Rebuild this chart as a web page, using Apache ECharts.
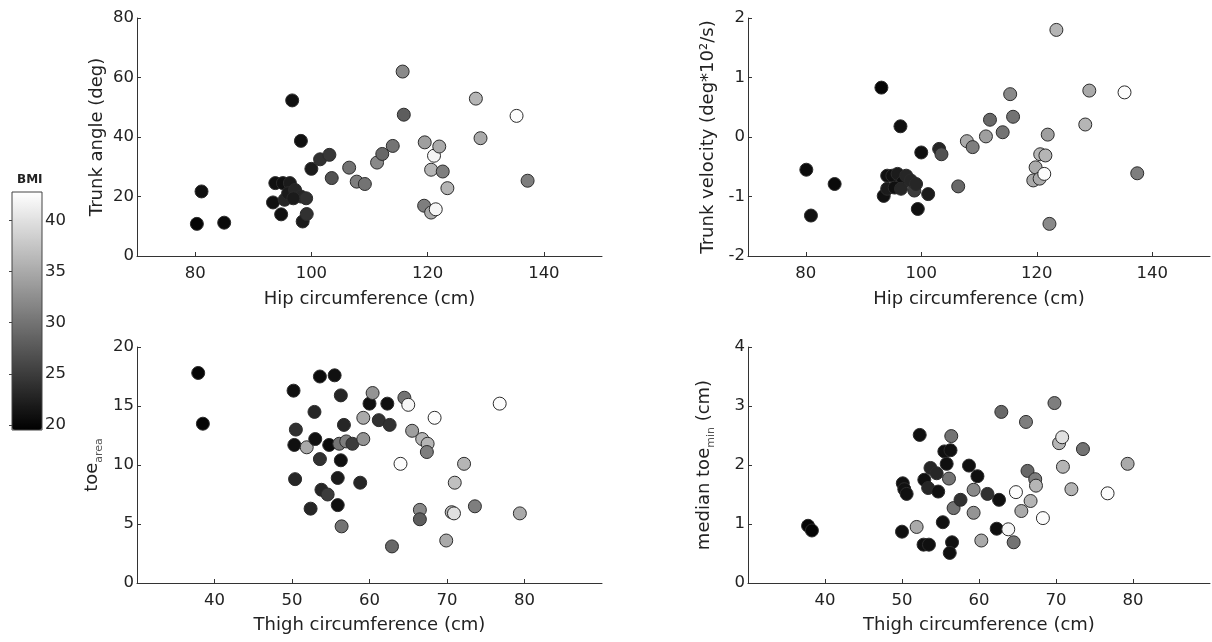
<!DOCTYPE html>
<html>
<head>
<meta charset="utf-8">
<script src="https://cdn.jsdelivr.net/npm/echarts@6/dist/echarts.min.js"></script>
<style>
  html, body { margin: 0; padding: 0; background: #fff; }
  #chart { width: 1212px; height: 642px; }
</style>
</head>
<body>
<div id="chart"></div>
<script>
// trunk angle vs hip circumference
const angleHip = [80.3, 81.1, 85, 96.7, 98.2, 100, 101.5, 103.1, 103.5, 106.5, 107.8, 109.2, 111.3, 112.2, 114, 115.7, 115.9, 119.5, 119.4, 120.6, 121.4, 121.1, 120.6, 122, 122.6, 123.4, 128.3, 129.1, 135.3, 137.2, 93.4, 93.8, 95.1, 96.3, 94.8, 95.4, 96, 97.2, 98.2, 99.1, 98.5, 99.2, 96.9]
const angleDeg = [10.8, 21.7, 11.2, 52.3, 38.7, 29.3, 32.5, 34, 26.2, 29.7, 25, 24.2, 31.4, 34.3, 37, 62, 47.5, 38.2, 16.9, 14.6, 15.7, 33.7, 29, 36.8, 28.4, 22.8, 52.9, 39.6, 47.1, 25.3, 18, 24.5, 24.5, 24.5, 14, 18.9, 21.1, 22.2, 20, 19.4, 11.6, 14.1, 19.4]
const angleBmi = [20, 21, 20.5, 21, 21, 22, 24, 24.5, 27, 30, 31, 30, 32, 29, 30, 32, 28, 34, 31, 35, 42, 42, 36, 35, 31, 36, 36, 35, 42.5, 31, 21, 21, 21, 22, 21, 23, 22, 23, 23, 24, 22, 24, 22]

// trunk velocity vs hip circumference
const velHip = [80.1, 80.9, 85, 93.1, 96.4, 100, 103.1, 103.5, 106.4, 107.9, 108.9, 111.2, 111.9, 114.1, 115.4, 115.9, 119.4, 119.8, 120.6, 121.5, 120.5, 121.3, 121.9, 122.2, 123.4, 128.4, 129.1, 135.2, 137.4, 93.5, 94.1, 95, 95.9, 96.8, 97.4, 98.2, 98.8, 99.1, 94.1, 95.4, 99.4, 101.2, 96.5]
const velVal = [-0.55, -1.32, -0.79, 0.83, 0.18, -0.26, -0.2, -0.29, -0.83, -0.07, -0.17, 0.01, 0.29, 0.08, 0.72, 0.34, -0.73, -0.51, -0.29, -0.31, -0.7, -0.62, 0.04, -1.46, 1.8, 0.21, 0.78, 0.75, -0.61, -0.99, -0.65, -0.65, -0.62, -0.76, -0.65, -0.73, -0.9, -0.79, -0.87, -0.85, -1.21, -0.96, -0.87]
const velBmi = [20.5, 21, 20.5, 20, 21, 21, 23, 27, 29, 35, 31, 34, 29, 30, 32, 30, 35, 35, 36, 36, 35, 42.5, 34, 32, 36, 36, 35, 42.5, 31, 21, 21, 21, 22, 21, 23, 23, 25, 23, 22, 21, 21, 22, 23]

// toe area vs thigh circumference
const areaThigh = [37.9, 38.5, 50.2, 50.5, 50.3, 50.4, 52.4, 51.9, 52.9, 53, 53.6, 53.6, 53.8, 54.6, 54.8, 55.5, 55.9, 55.9, 56.3, 56.3, 56.7, 56.4, 56.1, 57, 57.8, 58.8, 59.2, 59.2, 60, 60.4, 61.2, 62.3, 62.6, 62.9, 64, 64.5, 65, 65.5, 66.5, 66.5, 66.8, 67.5, 67.4, 68.4, 69.9, 70.6, 70.9, 71, 72.2, 73.6, 76.8, 79.4]
const areaVal = [17.8, 13.5, 16.3, 13, 11.7, 8.8, 6.3, 11.5, 14.5, 12.2, 17.5, 10.5, 7.9, 7.5, 11.7, 17.6, 8.9, 6.6, 15.9, 10.4, 13.4, 4.8, 11.8, 12, 11.8, 8.5, 12.2, 14, 15.2, 16.1, 13.8, 15.2, 13.4, 3.1, 10.1, 15.7, 15.1, 12.9, 6.2, 5.4, 12.2, 11.8, 11.1, 14, 3.6, 6, 5.9, 8.5, 10.1, 6.5, 15.2, 5.9]
const areaBmi = [20, 20, 21, 24, 21, 23, 23, 35, 23, 21, 20.5, 24, 23, 25, 20.5, 21, 22, 21, 23, 21, 23, 30, 30, 31, 25, 23, 33, 35, 21, 33, 24, 21, 24, 29, 42.5, 30, 42, 34, 32, 28, 36, 36, 31, 42.5, 35, 36, 40, 37, 36, 31, 42.5, 35]

// median toe min vs thigh circumference
const minThigh = [37.8, 38.3, 50, 50.1, 50.3, 50.6, 51.9, 52.3, 52.9, 52.8, 53.5, 53.7, 53.4, 54.5, 54.7, 55.3, 55.5, 56.3, 55.8, 56.1, 56.4, 56.5, 56.2, 56.7, 57.6, 58.7, 59.3, 59.3, 59.8, 60.3, 61.1, 62.3, 62.6, 62.9, 63.8, 64.5, 64.8, 65.5, 66.1, 66.3, 66.7, 67.3, 67.4, 68.3, 69.8, 70.4, 70.8, 70.9, 72, 73.5, 76.7, 79.3]
const minVal = [0.97, 0.89, 0.87, 1.69, 1.59, 1.51, 0.95, 2.51, 1.75, 0.65, 0.65, 1.95, 1.61, 1.86, 1.55, 1.03, 2.23, 2.25, 2.02, 1.77, 2.49, 0.69, 0.51, 1.27, 1.41, 1.99, 1.58, 1.19, 1.81, 0.72, 1.51, 0.92, 1.41, 2.9, 0.91, 0.69, 1.54, 1.22, 2.73, 1.9, 1.39, 1.76, 1.65, 1.1, 3.05, 2.37, 2.47, 1.97, 1.59, 2.27, 1.52, 2.02]
const minBmi = [20, 20, 21, 21, 21, 21, 35, 21, 21, 21, 21, 23, 23, 23, 21, 21, 21, 21, 21, 30, 30, 21, 21, 30, 24, 21, 32, 33, 21, 35, 24, 21, 21, 29, 42, 30, 42.5, 35, 31, 29, 36, 31, 36, 42.5, 31, 36, 40, 36, 36, 30, 42.5, 35]

const hipTicks = [80, 100, 120, 140]
const thighTicks = [40, 50, 60, 70, 80]
const bmiTicks = [20, 25, 30, 35, 40]
const bmiMin = 19.5
const bmiMax = 42.8

const FONT = "'DejaVu Sans', 'Liberation Sans', sans-serif"
const INK = '#222'

function zip(xs, ys, cs) {
  return xs.map((x, i) => [x, ys[i], cs[i]])
}

function xAxisOf(gridIndex, min, max, ticks, name, gap) {
  return {
    type: 'value', gridIndex, min, max,
    name, nameLocation: 'middle', nameGap: gap,
    nameTextStyle: { color: INK, fontFamily: FONT, fontSize: 18 },
    axisLine: { onZero: false, lineStyle: { color: '#333', width: 1 } },
    axisTick: { inside: true, length: 4, customValues: ticks, lineStyle: { color: '#333' } },
    axisLabel: { color: INK, fontFamily: FONT, fontSize: 16.5, margin: 9, customValues: ticks },
    splitLine: { show: false },
  }
}

function yAxisOf(gridIndex, min, max, interval, name, gap, rich) {
  return {
    type: 'value', gridIndex, min, max, interval,
    name, nameLocation: 'middle', nameGap: gap, nameRotate: 90,
    nameTextStyle: { color: INK, fontFamily: FONT, fontSize: 18, rich },
    axisLine: { show: true, onZero: false, lineStyle: { color: '#333', width: 1 } },
    axisTick: { show: true, inside: true, length: 4, lineStyle: { color: '#333' } },
    axisLabel: { color: INK, fontFamily: FONT, fontSize: 16.5, margin: 3 },
    splitLine: { show: false },
  }
}

function scatterOf(i, data) {
  return {
    type: 'scatter', xAxisIndex: i, yAxisIndex: i, data,
    symbolSize: 13,
    itemStyle: { borderColor: '#2b2b2b', borderWidth: 1, opacity: 1 },
  }
}

const subRich = {
  sub: { fontFamily: FONT, fontSize: 11, color: '#555', verticalAlign: 'bottom', lineHeight: 26 },
}

const chart = echarts.init(document.getElementById('chart'))
chart.setOption({
  animation: false,
  title: {
    text: 'BMI', left: 12, top: 169,
    textStyle: { fontFamily: FONT, fontSize: 12, fontWeight: 'bold', color: INK },
  },
  grid: [
    { left: 137, top: 18, width: 465, height: 238 },
    { left: 748, top: 18, width: 462, height: 238 },
    { left: 137, top: 347, width: 465, height: 236 },
    { left: 748, top: 347, width: 462, height: 236 },
    { left: 12, top: 192, width: 30, height: 238, show: true, z: 10,
      borderColor: '#444', borderWidth: 1, backgroundColor: 'transparent' },
  ],
  xAxis: [
    xAxisOf(0, 70, 150, hipTicks, 'Hip circumference (cm)', 34),
    xAxisOf(1, 70, 150, hipTicks, 'Hip circumference (cm)', 34),
    xAxisOf(2, 30, 90, thighTicks, 'Thigh circumference (cm)', 33),
    xAxisOf(3, 30, 90, thighTicks, 'Thigh circumference (cm)', 33),
    { type: 'value', gridIndex: 4, show: false, min: 0, max: 1 },
  ],
  yAxis: [
    yAxisOf(0, 0, 80, 20, 'Trunk angle (deg)', 31),
    yAxisOf(1, -2, 2, 1, 'Trunk velocity (deg*10²/s)', 31),
    yAxisOf(2, 0, 20, 5, 'toe{sub|area}', 32, subRich),
    yAxisOf(3, 0, 4, 1, 'median toe{sub|min} (cm)', 31, subRich),
    {
      type: 'value', gridIndex: 4, position: 'right', min: bmiMin, max: bmiMax,
      axisLine: { show: false },
      axisTick: { show: true, inside: true, length: 3, customValues: bmiTicks, lineStyle: { color: '#444' } },
      axisLabel: { color: INK, fontFamily: FONT, fontSize: 16.5, margin: 3, customValues: bmiTicks },
      splitLine: { show: false },
    },
  ],
  visualMap: {
    type: 'continuous',
    min: bmiMin, max: bmiMax,
    dimension: 2,
    seriesIndex: [0, 1, 2, 3],
    calculable: false,
    hoverLink: false,
    left: 12, top: 192,
    itemWidth: 30, itemHeight: 238,
    padding: 0,
    text: null,
    showLabel: false,
    inRange: { color: ['#000000', '#ffffff'] },
  },
  series: [
    scatterOf(0, zip(angleHip, angleDeg, angleBmi)),
    scatterOf(1, zip(velHip, velVal, velBmi)),
    scatterOf(2, zip(areaThigh, areaVal, areaBmi)),
    scatterOf(3, zip(minThigh, minVal, minBmi)),
  ],
})
</script>
</body>
</html>
